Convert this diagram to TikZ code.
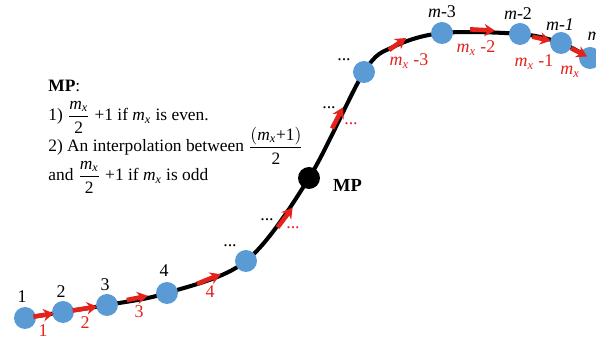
\documentclass[tikz,border=0pt]{standalone}
\usepackage{amsmath}
\usepackage{fontspec}
\setmainfont{Liberation Serif}
\usetikzlibrary{arrows.meta, calc, backgrounds}
\definecolor{ptblue}{HTML}{5B9BD5}
\definecolor{ptred}{HTML}{E3221C}
\newcommand{\mx}{\textit{m}_{\textit{x}}}

\begin{document}
\begin{tikzpicture}[x=0.02cm, y=-0.02cm,
    point/.style={circle, fill=ptblue, minimum size=0.44cm, inner sep=0pt},
    midpt/.style={circle, fill=black, minimum size=0.44cm, inner sep=0pt},
    flow/.style={draw=ptred, line width=2.6pt, -{Stealth[length=6pt, width=7pt]}},
    idx/.style={font=\fontsize{10.2}{12}\selectfont, inner sep=1pt},
    ridx/.style={idx, text=ptred},
    txt/.style={font=\fontsize{9.9}{12}\selectfont, anchor=base west, inner sep=0pt},
]
    \clip (0,0) rectangle (596,340);

    % points on the profile
    \node[point] (p1) at (25,318) {};
    \node[point] (p2) at (63,312) {};
    \node[point] (p3) at (107,305) {};
    \node[point] (p4) at (167,293) {};
    \node[point] (p5) at (246,261) {};
    \node[midpt] (mp) at (309,178) {};
    \node[point] (p6) at (364,72) {};
    \coordinate (bend) at (393,47);
    \node[point] (pm3) at (442,33) {};
    \node[point] (pm2) at (520,34) {};
    \node[point] (pm1) at (561,43) {};
    \node[point] (pm) at (590,58) {};
    \coordinate (pend) at (615,70);

    % the profile curve
    \begin{scope}[on background layer]
        \draw[line width=2.3pt] plot[smooth, tension=0.55] coordinates {
            (p1.center) (p2.center) (p3.center) (p4.center) (p5.center) (mp.center)
            (p6.center) (bend) (pm3.center) (pm2.center) (pm1.center) (pm.center) (pend)};
    \end{scope}

    % direction arrows
    \draw[flow] ($(p1)!.22!(p2)$) -- ($(p1)!.76!(p2)$);
    \draw[flow] ($(p2)!.22!(p3)$) -- ($(p2)!.78!(p3)$);
    \draw[flow] ($(p3)!.33!(p4)+(0,-1)$) -- ($(p3)!.68!(p4)+(0,-1)$);
    \draw[flow] ($(p4)!.38!(p5)+(0,3)$) -- ($(p4)!.68!(p5)+(0,3)$);
    \draw[flow] ($(p5)!.5!(mp)+(0,8)$) -- ($(p5)!.74!(mp)+(0,8)$);
    \draw[flow] ($(mp)!.42!(p6)+(0,-5)$) -- ($(mp)!.62!(p6)+(0,-5)$);
    \draw[flow] ($(bend)+(-4,3)$) -- ($(bend)+(13,-9)$);
    \draw[flow] ($(pm3)!.36!(pm2)+(0,-4)$) -- ($(pm3)!.68!(pm2)+(0,-3)$);
    \draw[flow] ($(pm2)!.3!(pm1)$) -- ($(pm2)!.75!(pm1)$);
    \draw[flow] ($(pm1)!.35!(pm)$) -- ($(pm1)!.9!(pm)$);

    % black labels
    \node[idx] (l1) at (22,297) {1};
    \node[idx] (l2) at (61,292) {2};
    \node[idx] (l3) at (105,285) {3};
    \node[idx] (l4) at (164,271) {4};
    \node[idx] (l5) at (230,246) {...};
    \node[idx] (d1) at (267,220) {...};
    \node[idx] (d2) at (329,108) {...};
    \node[idx] (l6) at (344,60) {...};
    \node[idx] (lm3) at (442,12) {\textit{m}-3};
    \node[idx] (lm2) at (518,14) {\textit{m}-2};
    \node[idx] (lm1) at (560,25) {\textit{m-1}};
    \node[idx] (lm) at (594,36) {\textit{m}};

    % red labels
    \node[ridx] (r1) at (43,331) {1};
    \node[ridx] (r2) at (85,323) {2};
    \node[ridx] (r3) at (139,312) {3};
    \node[ridx] (r4) at (210,292) {4};
    \node[ridx] (r5) at (293,228) {...};
    \node[ridx] (r6) at (351,124) {...};
    \node[ridx] (rm3) at (409,61) {$\mx$ -3};
    \node[ridx] (rm2) at (476,48) {$\mx$ -2};
    \node[ridx] (rm1) at (534,62) {$\mx$ -1};
    \node[ridx] (rm) at (570,72) {$\mx$};

    \node[font=\fontsize{10.5}{12}\selectfont\bfseries, anchor=west] (mplab) at (327,185) {MP};

    % explanation
    \node[txt] (t0) at (48,92) {\textbf{MP}:};
    \node[txt] (t1) at (48,121) {1) $\dfrac{\mx}{\text{2}}$ +1 if $\mx$ is even.};
    \node[txt] (t2) at (48,152) {2) An interpolation between $\dfrac{(\mx\text{+1})}{\text{2}}$};
    \node[txt] (t3) at (48,181) {and $\dfrac{\mx}{\text{2}}$ +1 if $\mx$ is odd};
\end{tikzpicture}
\end{document}
